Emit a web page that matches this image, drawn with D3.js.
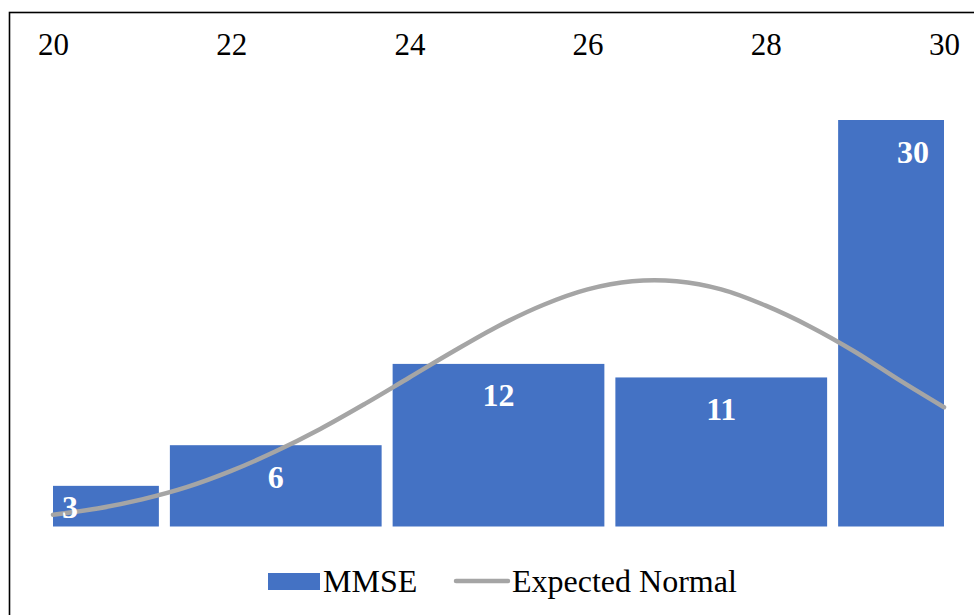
<!DOCTYPE html>
<html>
<head>
<meta charset="utf-8">
<script src="https://cdn.jsdelivr.net/npm/d3@7/dist/d3.min.js"></script>
<style>
  html, body { margin: 0; padding: 0; background: #fff; }
  svg { display: block; }
  svg text { font-family: 'Liberation Serif', 'Times New Roman', serif; }
</style>
</head>
<body>
<svg id="chart" width="974" height="615"></svg>
<script>
// ---- data ----
const binStart = [20, 21.25, 23.75, 26.25, 28.75];
const binEnd   = [21.25, 23.75, 26.25, 28.75, 30];
const binLabelAt = [20, 22.5, 25, 27.5, 30];
const counts = [3, 6, 12, 11, 30];
const xTicks = [20, 22, 24, 26, 28, 30];
const normalX = [20, 20.5, 21, 21.5, 22, 22.5, 23, 23.5, 24, 24.5, 25, 25.5, 26, 26.5, 27, 27.5, 28, 28.5, 29, 29.5, 30];
const normalY = [0.87, 1.33, 2.0, 2.9, 4.1, 5.55, 7.2, 9.05, 11.0, 12.95, 14.8, 16.35, 17.5, 18.1, 18.1, 17.5, 16.3, 14.75, 12.9, 10.8, 8.8];
const seriesNames = ["MMSE", "Expected Normal"];

// ---- layout ----
const svg = d3.select("#chart");
const x = d3.scaleLinear().domain([20, 30]).range([53, 944]);
const y = d3.scaleLinear().domain([0, 30]).range([526.5, 120]);
const gap = 5.5;
const barColor = "#4472C4";
const lineColor = "#A5A5A5";
const serif = "'Liberation Serif', 'Times New Roman', serif";

// frame
svg.append("rect")
  .attr("x", 9.5).attr("y", 12.5)
  .attr("width", 1100).attr("height", 1100)
  .attr("fill", "none").attr("stroke", "#000").attr("stroke-width", 1.6);

// top axis labels
const axis = d3.axisTop(x).tickValues(xTicks).tickSize(0).tickPadding(0);
const gAxis = svg.append("g").attr("transform", "translate(0,55)").call(axis);
gAxis.attr("font-family", serif);
gAxis.select(".domain").remove();
gAxis.selectAll("text")
  .style("font-family", serif).attr("font-size", 31).attr("fill", "#000")
  .attr("dy", 0);

// bars
const idx = d3.range(counts.length);
svg.append("g").selectAll("rect").data(idx).join("rect")
  .attr("x", i => x(binStart[i]) + (i === 0 ? 0 : gap))
  .attr("width", i => (x(binEnd[i]) - (i === counts.length - 1 ? 0 : gap)) - (x(binStart[i]) + (i === 0 ? 0 : gap)))
  .attr("y", i => y(counts[i]))
  .attr("height", i => y(0) - y(counts[i]))
  .attr("fill", barColor);

// normal curve
const line = d3.line()
  .x((d, i) => x(normalX[i]))
  .y((d, i) => y(normalY[i]))
  .curve(d3.curveCatmullRom.alpha(0.5));
svg.append("path")
  .datum(normalX)
  .attr("d", line)
  .attr("fill", "none")
  .attr("stroke", lineColor)
  .attr("stroke-width", 4.5)
  .attr("stroke-linecap", "round");

// data labels
const labelLeft = 62, labelRight = 929;
const labels = svg.append("g").selectAll("text").data(idx).join("text")
  .style("font-family", serif).attr("font-size", 32).attr("font-weight", "bold")
  .attr("fill", "#fff").attr("text-anchor", "middle")
  .text(i => counts[i]);
labels.each(function(i) {
  const w = this.getComputedTextLength();
  let cx = x(binLabelAt[i]);
  cx = Math.max(labelLeft + w / 2, Math.min(labelRight - w / 2, cx));
  const by = Math.min(y(counts[i]) + 42.5, y(0) - 8.5);
  d3.select(this).attr("x", cx).attr("y", by);
});

// legend
const lg = svg.append("g");
lg.append("rect").attr("x", 268).attr("y", 573).attr("width", 52).attr("height", 17).attr("fill", barColor);
lg.append("text").attr("x", 323).attr("y", 592)
  .style("font-family", serif).attr("font-size", 32).attr("fill", "#000").text(seriesNames[0]);
lg.append("line").attr("x1", 456).attr("x2", 508).attr("y1", 581).attr("y2", 581)
  .attr("stroke", lineColor).attr("stroke-width", 4.5).attr("stroke-linecap", "round");
lg.append("text").attr("x", 512).attr("y", 592)
  .style("font-family", serif).attr("font-size", 32).attr("fill", "#000").text(seriesNames[1]);
</script>
</body>
</html>
